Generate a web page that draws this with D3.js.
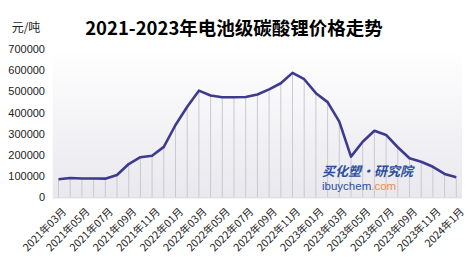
<!DOCTYPE html>
<html><head><meta charset="utf-8">
<script src="https://cdn.jsdelivr.net/npm/d3@7"></script>
<style>
html,body{margin:0;padding:0;background:#fff;}
svg{display:block;}
</style></head>
<body>
<svg id="chart" width="472" height="268"></svg>
<script>
const months = [
 "2021年03月","2021年04月","2021年05月","2021年06月","2021年07月","2021年08月","2021年09月","2021年10月","2021年11月","2021年12月",
 "2022年01月","2022年02月","2022年03月","2022年04月","2022年05月","2022年06月","2022年07月","2022年08月","2022年09月","2022年10月","2022年11月","2022年12月",
 "2023年01月","2023年02月","2023年03月","2023年04月","2023年05月","2023年06月","2023年07月","2023年08月","2023年09月","2023年10月","2023年11月","2023年12月",
 "2024年1月"];
const prices = [
 85000, 91000, 89000, 89000, 88000, 105000, 157000, 189000, 196000, 238000,
 341000, 427000, 503000, 480000, 472000, 472000, 473000, 485000, 509000, 538000, 587000, 557000,
 491000, 449000, 357000, 192000, 262000, 314000, 294000, 236000, 184000, 168000, 144000, 110000,
 94000];
const tickLabels = months.filter((d,i)=>i%2===0);
const yTicks = [0,100000,200000,300000,400000,500000,600000,700000];

const svg = d3.select("#chart");
const x = d3.scalePoint().domain(months).range([58.5, 456.3]);
const y = d3.scaleLinear().domain([0,700000]).range([197.3, 48.9]);

const defs = svg.append("defs");
const grad = defs.append("linearGradient").attr("id","bg").attr("x1",0).attr("y1",0).attr("x2",0).attr("y2",1);
grad.append("stop").attr("offset","0%").attr("stop-color","#ffffff");
grad.append("stop").attr("offset","100%").attr("stop-color","#e8e8ee");

// plot area background
svg.append("rect").attr("x",52.7).attr("y",y(700000)).attr("width",462-52.7).attr("height",y(0)-y(700000)).attr("fill","url(#bg)");

// title
svg.append("text").attr("x",234).attr("y",35).attr("text-anchor","middle")
  .attr("font-family","'Noto Sans CJK SC', sans-serif").attr("font-weight","bold").attr("font-size",18.5).attr("fill","#000")
  .text("2021-2023年电池级碳酸锂价格走势");
svg.append("text").attr("x",26).attr("y",32).attr("text-anchor","middle")
  .attr("font-family","'Noto Sans CJK SC', sans-serif").attr("font-size",12).attr("fill","#222").text("元/吨");

// y axis
const yAxis = d3.axisLeft(y).tickValues(yTicks).tickSize(0).tickPadding(0).tickFormat(d3.format("d"));
const yg = svg.append("g").attr("transform","translate(45,0)").call(yAxis);
yg.select(".domain").remove();
yg.selectAll("text").attr("font-family","'Liberation Sans', Arial, sans-serif").attr("font-size",11).attr("fill","#222");

// drop lines
svg.append("g").selectAll("line").data(months).join("line")
  .attr("x1",d=>x(d)).attr("x2",d=>x(d))
  .attr("y1",(d,i)=>y(prices[i])).attr("y2",y(0))
  .attr("stroke","#c9c9cf").attr("stroke-width",1);

// baseline
svg.append("line").attr("x1",52.7).attr("x2",462).attr("y1",y(0)+0.5).attr("y2",y(0)+0.5).attr("stroke","#d4d4d8");

// x axis labels
const xAxis = d3.axisBottom(x).tickValues(tickLabels).tickSize(0).tickPadding(0);
const xg = svg.append("g").attr("transform",`translate(0,${y(0)})`).call(xAxis);
xg.select(".domain").remove();
xg.selectAll("text").attr("font-family","'Noto Sans CJK SC', sans-serif").attr("font-size",10.5).attr("fill","#222")
  .attr("text-anchor","end").attr("dy",0).attr("y",0)
  .attr("transform","translate(8,15) rotate(-45)");

// watermark
svg.append("text").attr("x",322).attr("y",176).attr("font-family","'Noto Sans CJK SC', sans-serif").attr("font-weight","bold")
  .attr("font-style","italic").attr("font-size",13).attr("fill","#2b4f9e").text("买化塑·研究院");
const wm = svg.append("text").attr("x",322).attr("y",190).attr("font-family","'Liberation Sans', Arial, sans-serif").attr("font-size",11.5);
wm.append("tspan").attr("fill","#2b4f9e").text("ibuychem");
wm.append("tspan").attr("fill","#f08a4b").text(".com");

// line
svg.append("path").datum(prices)
  .attr("d", d3.line().x((d,i)=>x(months[i])).y(d=>y(d)))
  .attr("fill","none").attr("stroke","#3d3a8f").attr("stroke-width",2.6).attr("stroke-linejoin","round");
</script>
</body></html>
